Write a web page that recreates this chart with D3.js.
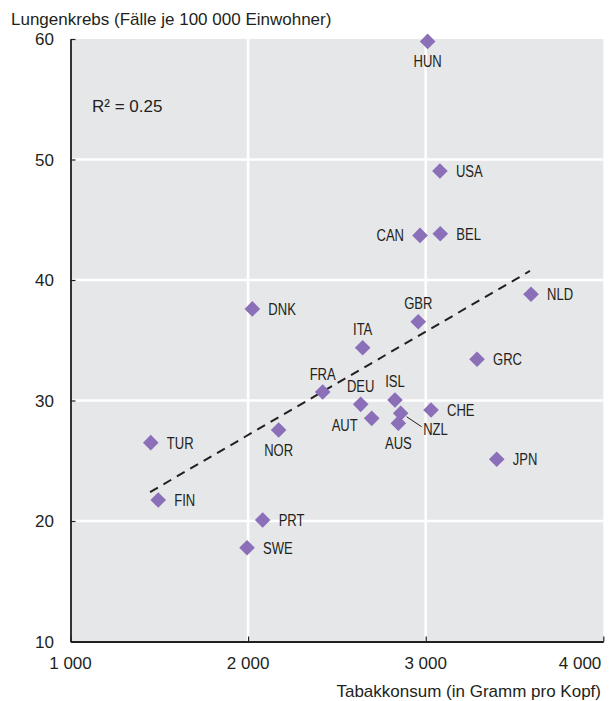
<!DOCTYPE html>
<html><head><meta charset="utf-8">
<script src="https://cdn.jsdelivr.net/npm/d3@7"></script>
<style>
html,body{margin:0;padding:0;background:#fff;}
svg{display:block;}
text{font-family:"Liberation Sans","Arial","Helvetica",sans-serif;fill:#231f20;}
</style></head>
<body>
<svg id="c" width="615" height="701"></svg>
<script>
// ---- data ----
const countries = ["HUN","USA","CAN","BEL","NLD","DNK","GBR","ITA","GRC","FRA","DEU","ISL","CHE","AUT","NZL","AUS","TUR","NOR","JPN","FIN","PRT","SWE"];
const tobacco   = [3011,3080,2968,3082,3593,2024,2958,2645,3289,2420,2634,2827,3030,2696,2859,2846,1452,2172,3400,1494,2082,1994];
const lungCancer= [59.8,49.05,43.7,43.84,38.82,37.6,36.54,34.38,33.42,30.7,29.68,30.04,29.21,28.52,28.94,28.11,26.5,27.55,25.12,21.74,20.08,17.78];
const labelSide = ["b","r","l","r","r","r","t","t","r","t","t","t","r","lb","nzl","b","r","b","r","r","r","r"];
const trendX = [1448, 3587];
const trendY = [22.4, 40.75];
const xTicks = [1000,2000,3000,4000];
const xTickLabels = ["1 000","2 000","3 000","4 000"];
const yTicks = [10,20,30,40,50,60];
const yTitle = "Lungenkrebs (Fälle je 100 000 Einwohner)";
const xTitle = "Tabakkonsum (in Gramm pro Kopf)";
const r2Label = "R² = 0.25";

// ---- layout ----
const L = 70.5, R = 603.3, T = 39, B = 641.5;
const svg = d3.select("#c");
const x = d3.scaleLinear().domain([1000,4000]).range([L,R]);
const y = d3.scaleLinear().domain([10,60]).range([B,T]);
const ink = "#231f20", purple = "#8b6fb8";
const FS = 17;

svg.append("rect").attr("x",L).attr("y",T).attr("width",R-L).attr("height",B-T).attr("fill","#e6e7e9");

// gridlines
svg.append("g").selectAll("line").data(xTicks.slice(1,-1)).join("line")
  .attr("x1",d=>x(d)).attr("x2",d=>x(d)).attr("y1",T).attr("y2",B)
  .attr("stroke","#fff").attr("stroke-width",2.6);
svg.append("g").selectAll("line").data(yTicks.slice(1,-1)).join("line")
  .attr("x1",L).attr("x2",R).attr("y1",d=>y(d)).attr("y2",d=>y(d))
  .attr("stroke","#fff").attr("stroke-width",2.6);

// axes
const xAxis = d3.axisBottom(x).tickValues(xTicks).tickSizeInner(-5).tickSizeOuter(0).tickFormat("");
const yAxis = d3.axisLeft(y).tickValues(yTicks).tickSizeInner(-5).tickSizeOuter(0).tickFormat("");
const gx = svg.append("g").attr("transform",`translate(0,${B})`).call(xAxis);
const gy = svg.append("g").attr("transform",`translate(${L},0)`).call(yAxis);
[gx,gy].forEach(g=>{
  g.select(".domain").attr("stroke",ink).attr("stroke-width",1.8);
  g.selectAll(".tick line").attr("stroke",ink).attr("stroke-width",1.2);
});

// tick labels
svg.append("g").selectAll("text").data(yTicks).join("text")
  .attr("x",54).attr("y",d=>y(d)).attr("dy","0.36em").attr("text-anchor","end")
  .attr("font-size",FS).text(d=>d);
svg.append("g").selectAll("text").data(xTicks).join("text")
  .attr("x",(d,i)=> i===xTicks.length-1 ? R-2 : x(d))
  .attr("y",663).attr("dy","0.36em")
  .attr("text-anchor",(d,i)=> i===xTicks.length-1 ? "end" : "middle")
  .attr("font-size",FS).text((d,i)=>xTickLabels[i]);

// titles
svg.append("text").attr("x",11).attr("y",25).attr("font-size",FS).text(yTitle);
svg.append("text").attr("x",601).attr("y",697).attr("text-anchor","end").attr("font-size",FS).text(xTitle);
svg.append("text").attr("x",92).attr("y",112).attr("font-size",FS).text(r2Label);

// trend line
svg.append("line")
  .attr("x1",x(trendX[0])).attr("y1",y(trendY[0]))
  .attr("x2",x(trendX[1])).attr("y2",y(trendY[1]))
  .attr("stroke",ink).attr("stroke-width",2).attr("stroke-dasharray","9,6.5");

// points
const pts = countries.map((c,i)=>({c, px:x(tobacco[i]), py:y(lungCancer[i]), side:labelSide[i]}));
const sym = d3.symbol().type(d3.symbolSquare).size(122);
svg.append("g").selectAll("path").data(pts).join("path")
  .attr("d",sym).attr("fill",purple)
  .attr("transform",d=>`translate(${d.px},${d.py}) rotate(45)`);

// NZL leader line
const nz = pts.find(p=>p.side==="nzl");
svg.append("line").attr("x1",nz.px+6).attr("y1",nz.py+3.5).attr("x2",nz.px+21).attr("y2",nz.py+13.5)
  .attr("stroke",ink).attr("stroke-width",1);

// labels (condensed)
const off = {
  r:  {dx:16,  dy:0,   a:"start"},
  l:  {dx:-16, dy:0,   a:"end"},
  t:  {dx:0,   dy:-18.5, a:"middle"},
  b:  {dx:0,   dy:20,  a:"middle"},
  lb: {dx:-14, dy:7,   a:"end"},
  nzl:{dx:22.5,dy:16,  a:"start"}
};
svg.append("g").selectAll("text").data(pts).join("text")
  .attr("font-size",16.5).attr("dy","0.36em")
  .attr("text-anchor",d=>off[d.side].a)
  .attr("transform",d=>`translate(${d.px+off[d.side].dx},${d.py+off[d.side].dy}) scale(0.79,1)`)
  .text(d=>d.c);
</script>
</body></html>
